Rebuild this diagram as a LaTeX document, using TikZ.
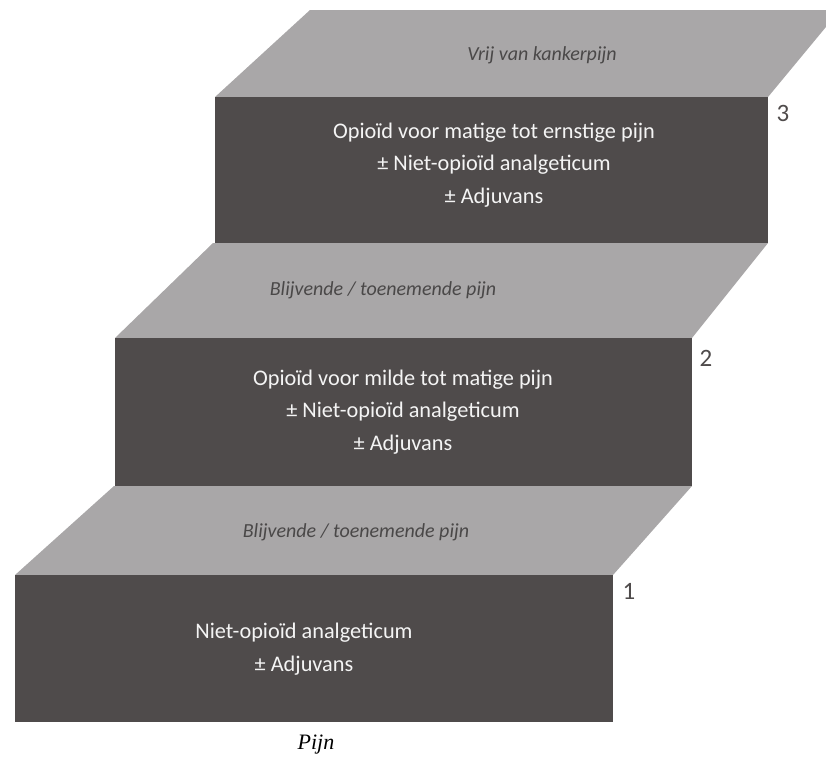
\documentclass[tikz,border=0pt]{standalone}
\usepackage{fontspec}
\setmainfont{Carlito}
\newfontfamily\pijnfont{Liberation Serif}
\definecolor{frontc}{HTML}{4F4B4B}
\definecolor{topc}{HTML}{A9A7A8}
\definecolor{toptext}{HTML}{4A4848}
\definecolor{fronttext}{HTML}{F4F4F4}
\tikzset{
  frontface/.style={fill=frontc, draw=none},
  topface/.style={fill=topc, draw=none},
  toplabel/.style={text=toptext, font=\fontsize{20}{22}\selectfont\itshape, inner sep=0pt},
  frontlabel/.style={text=fronttext, font=\fontsize{22.3}{32.5}\selectfont, align=center, inner sep=0pt},
  numlabel/.style={text=frontc, font=\fontsize{25}{27}\selectfont, inner sep=0pt}
}
\begin{document}
\begin{tikzpicture}[x=1pt,y=-1pt]
\useasboundingbox (0,0) rectangle (826,764);
\begin{scope}
\clip (0,0) rectangle (826,764);
% step 3
\fill[topface] (310,10) -- (840,10) -- (768,97) -- (215,97) -- cycle;
\fill[frontface] (215,97) rectangle (768,243);
% step 2
\fill[topface] (213,243) -- (768,243) -- (692,338) -- (115,338) -- cycle;
\fill[frontface] (115,338) rectangle (692,486);
% step 1
\fill[topface] (114,486) -- (692,486) -- (613,575) -- (15,575) -- cycle;
\fill[frontface] (15,575) rectangle (613,722);
\end{scope}
\node[toplabel] (t3) at (542,55) {Vrij van kankerpijn};
\node[toplabel] (t2) at (383,290) {Blijvende / toenemende pijn};
\node[toplabel] (t1) at (356,532) {Blijvende / toenemende pijn};
\node[frontlabel] (f3) at (494,165) {Opioïd voor matige tot ernstige pijn\\± Niet-opioïd analgeticum\\± Adjuvans};
\node[frontlabel] (f2) at (403,412) {Opioïd voor milde tot matige pijn\\± Niet-opioïd analgeticum\\± Adjuvans};
\node[frontlabel] (f1) at (304,649) {Niet-opioïd analgeticum\\± Adjuvans};
\node[numlabel] (n3) at (783,113) {3};
\node[numlabel] (n2) at (706,358) {2};
\node[numlabel] (n1) at (629,591) {1};
\node[inner sep=0pt, font=\pijnfont\fontsize{22}{24}\selectfont\itshape] (pijn) at (316,745) {Pijn};
\end{tikzpicture}
\end{document}
